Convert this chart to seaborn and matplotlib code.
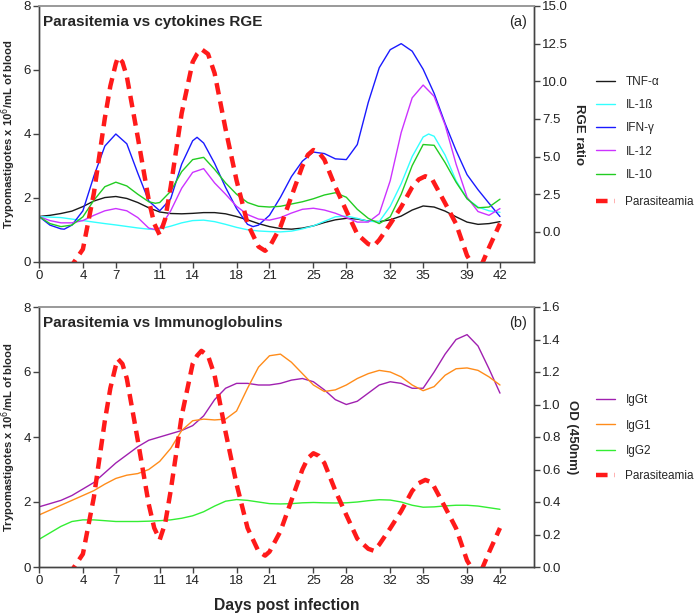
import matplotlib
matplotlib.use("Agg")
import matplotlib.pyplot as plt
import seaborn as sns
import pandas as pd
from matplotlib.lines import Line2D

# ---------------- data ----------------
tick_days = [0, 4, 7, 11, 14, 18, 21, 25, 28, 32, 35, 39, 42]

# Parasitemia (x10^6 / mL of blood); negative values fall below the axis and are clipped
para_days = [0, 1, 2, 3, 4, 5, 6, 6.5, 7, 7.2, 7.6, 8, 9, 10, 10.5, 11, 11.5, 12, 13, 14,
             14.4, 14.8, 15.4, 16, 17, 18, 19, 20, 20.6, 21, 22, 23, 24, 24.5, 25, 25.5,
             26, 27, 28, 29, 30, 30.5, 31, 32, 33, 34, 34.6, 35.2, 35.8, 36, 37, 38, 39,
             40, 41, 42]
para = [-1.5, -1.5, -1.0, -0.1, 0.4, 2.15, 4.5, 5.5, 6.2, 6.4, 6.25, 5.8, 3.9, 1.93, 1.2,
        0.84, 1.35, 2.35, 4.65, 6.25, 6.5, 6.65, 6.5, 5.9, 4.15, 2.55, 1.2, 0.48, 0.35,
        0.47, 1.1, 2.05, 3.0, 3.35, 3.5, 3.42, 3.2, 2.35, 1.6, 0.87, 0.56, 0.5, 0.69, 1.19,
        1.72, 2.34, 2.58, 2.68, 2.6, 2.47, 1.84, 1.19, 0.2, -0.35, 0.45, 1.2]

# Cytokines, RGE ratio
tnf_days = list(range(0, 43))
tnf = [1.02, 1.1, 1.22, 1.38, 1.68, 2.05, 2.28, 2.35, 2.22, 1.95, 1.6, 1.32, 1.22, 1.2,
       1.23, 1.28, 1.28, 1.2, 1.02, 0.8, 0.55, 0.35, 0.22, 0.18, 0.25, 0.4, 0.62, 0.8,
       0.9, 0.85, 0.72, 0.68, 0.8, 1.05, 1.45, 1.72, 1.65, 1.38, 1.0, 0.65, 0.5, 0.55, 0.68]

il1_days = [0, 1, 2, 3, 4, 5, 6, 7, 8, 9, 10, 10.6, 11, 12, 13, 14, 15, 16, 17, 18, 19,
            20, 21, 22, 23, 24, 25, 26, 27, 28, 29, 30, 31, 32, 33, 34, 35, 35.5, 36, 37,
            38, 39, 40, 41, 42]
il1 = [1.02, 0.98, 0.95, 0.85, 0.75, 0.65, 0.55, 0.46, 0.36, 0.26, 0.18, 0.15, 0.2, 0.38,
       0.6, 0.75, 0.78, 0.68, 0.5, 0.3, 0.14, 0.06, 0.02, 0.0, 0.05, 0.2, 0.4, 0.7, 1.0,
       1.05, 0.9, 0.7, 0.68, 1.7, 3.2, 5.0, 6.3, 6.5, 6.35, 5.1, 3.4, 2.2, 1.65, 1.4, 1.3]

ifn_days = [0, 1, 2, 2.3, 3, 4, 5, 6, 7, 8, 9, 10, 11, 12, 13, 14, 14.4, 15, 16, 17, 18,
            19, 19.5, 20, 21, 22, 23, 24, 25, 26, 27, 28, 29, 30, 31, 32, 33, 34, 35, 36,
            37, 38, 39, 40, 41, 42]
ifn = [1.02, 0.45, 0.2, 0.18, 0.45, 1.4, 3.7, 5.7, 6.5, 5.85, 3.9, 2.05, 1.4, 2.2, 4.5,
       6.05, 6.28, 5.9, 4.55, 2.95, 1.55, 0.5, 0.35, 0.45, 1.1, 2.3, 3.67, 4.7, 5.3, 5.2,
       4.85, 4.8, 5.8, 8.6, 10.9, 12.1, 12.5, 12.0, 10.8, 9.2, 7.2, 5.4, 3.8, 2.8, 1.9, 1.02]

il12_days = [0, 1, 2, 3, 4, 5, 6, 7, 8, 9, 10, 10.6, 11, 12, 13, 14, 15, 16, 17, 18, 19,
             20, 21, 22, 23, 24, 25, 26, 27, 28, 29, 30, 31, 32, 33, 34, 35, 36, 37, 38,
             39, 40, 41, 42]
il12 = [1.02, 0.75, 0.6, 0.6, 0.75, 1.1, 1.4, 1.55, 1.4, 0.95, 0.25, 0.15, 0.25, 1.4,
        2.9, 3.95, 4.2, 3.25, 2.5, 1.7, 1.15, 0.85, 0.78, 0.95, 1.25, 1.5, 1.57, 1.45,
        1.24, 0.95, 0.65, 0.65, 1.2, 3.4, 6.6, 8.9, 9.75, 9.0, 7.1, 4.5, 2.3, 1.35, 1.1, 1.55]

il10_days = [0, 1, 2, 3, 4, 5, 6, 7, 8, 9, 10, 10.6, 11, 12, 13, 14, 15, 16, 17, 18, 19,
             20, 21, 22, 23, 24, 25, 26, 27, 28, 29, 30, 31, 32, 33, 34, 35, 36, 37, 38,
             39, 40, 41, 42]
il10 = [1.02, 0.55, 0.35, 0.45, 1.0, 2.1, 3.0, 3.3, 3.05, 2.5, 2.0, 1.9, 1.95, 2.7, 4.0,
        4.8, 4.95, 4.15, 3.25, 2.5, 1.95, 1.7, 1.65, 1.7, 1.85, 2.0, 2.2, 2.45, 2.6, 2.3,
        1.5, 0.9, 0.55, 1.0, 2.5, 4.4, 5.8, 5.75, 4.6, 3.3, 2.2, 1.6, 1.65, 2.17]

# Immunoglobulins, OD (450nm)
ig_days = list(range(0, 43))
iggt = [0.37, 0.39, 0.41, 0.44, 0.48, 0.52, 0.58, 0.64, 0.69, 0.74, 0.78, 0.80, 0.82,
        0.84, 0.87, 0.93, 1.03, 1.1, 1.13, 1.13, 1.12, 1.12, 1.13, 1.15, 1.16, 1.14, 1.09,
        1.03, 1.0, 1.02, 1.07, 1.12, 1.14, 1.13, 1.1, 1.1, 1.2, 1.31, 1.4, 1.43, 1.36, 1.22, 1.07]
igg1 = [0.32, 0.35, 0.38, 0.41, 0.44, 0.47, 0.51, 0.545, 0.565, 0.575, 0.6, 0.65, 0.73,
        0.84, 0.9, 0.91, 0.905, 0.91, 0.96, 1.1, 1.23, 1.3, 1.31, 1.26, 1.19, 1.12, 1.08,
        1.09, 1.12, 1.16, 1.19, 1.21, 1.2, 1.17, 1.12, 1.085, 1.11, 1.18, 1.22, 1.225, 1.21,
        1.17, 1.12]
igg2 = [0.17, 0.21, 0.25, 0.28, 0.29, 0.29, 0.285, 0.28, 0.28, 0.28, 0.282, 0.285, 0.29,
        0.3, 0.315, 0.34, 0.375, 0.405, 0.415, 0.41, 0.4, 0.39, 0.388, 0.39, 0.395, 0.397,
        0.395, 0.394, 0.395, 0.40, 0.408, 0.414, 0.412, 0.4, 0.38, 0.368, 0.37, 0.376, 0.38,
        0.38, 0.375, 0.365, 0.355]

cyto_labels = ["TNF-α", "IL-1ß", "IFN-γ", "IL-12", "IL-10"]
cyto_colors = ["#1a1a1a", "#33ffff", "#1a1aff", "#cc33ff", "#22cc22"]
ig_labels = ["IgGt", "IgG1", "IgG2"]
ig_colors = ["#a020b0", "#ff8c1a", "#33ee33"]
para_label = "Parasiteamia"
para_color = "#ff1a1a"

# ---------------- style ----------------
sns.set_style("ticks")
plt.rcParams['font.family'] = ['Liberation Sans', 'DejaVu Sans']
plt.rcParams['axes.linewidth'] = 1.0

fig = plt.figure(figsize=(6.97, 6.16), dpi=100)
W, H = 697, 616

def axes_rect(l, r, t, b):
    return [l / W, 1 - b / H, (r - l) / W, (b - t) / H]

ax1 = fig.add_axes(axes_rect(39, 534, 6, 262))
ax2 = fig.add_axes(axes_rect(39, 534, 307, 567))

para_dash = (0, (2.6, 1.6))
para_lw = 3.2
thin = 1.0
leg_fs = 8.5

def style_axes(ax, axr):
    for a in (ax, axr):
        for s in ("left", "right", "bottom"):
            a.spines[s].set_color("#444444")
            a.spines[s].set_linewidth(1.0)
        a.spines["top"].set_color("#999999")
        a.spines["top"].set_linewidth(1.2)
        a.tick_params(direction="out", length=4, width=1.0, color="#444444",
                      labelsize=9.5, labelcolor="#222222", pad=2)
    ax.set_xlim(0, 45.1)
    ax.set_xticks(tick_days)
    ax.set_ylim(0, 8)
    ax.set_yticks([0, 2, 4, 6, 8])
    ax.set_ylabel("Trypomastigotes x 10$^6$/mL of blood", fontsize=8.1,
                  fontweight="bold")
    ax.yaxis.set_label_coords(-0.043, 0.5)
    ax.set_zorder(axr.get_zorder() + 1)
    ax.patch.set_visible(False)

# ---------- top panel ----------
ax1r = ax1.twinx()
cyto = [(tnf_days, tnf), (il1_days, il1), (ifn_days, ifn), (il12_days, il12), (il10_days, il10)]
for (d, v), lab, col in zip(cyto, cyto_labels, cyto_colors):
    sns.lineplot(x=d, y=v, ax=ax1r, color=col, lw=thin, sort=False, legend=False)
sns.lineplot(x=para_days, y=para, ax=ax1, color=para_color, lw=para_lw,
             linestyle=para_dash, sort=False, legend=False)
ax1r.set_ylim(-2, 15)
ax1r.set_yticks([0, 2.5, 5, 7.5, 10, 12.5, 15])
ax1r.set_yticklabels([f"{t:.1f}" for t in [0, 2.5, 5, 7.5, 10, 12.5, 15]])
ax1r.set_ylabel("RGE ratio", fontsize=9.5, fontweight="bold", rotation=270, labelpad=12)
style_axes(ax1, ax1r)
ax1.text(0.008, 0.965, "Parasitemia vs cytokines RGE", transform=ax1.transAxes,
         fontsize=11, fontweight="bold", va="top", ha="left")
ax1.text(0.985, 0.965, "(a)", transform=ax1.transAxes, fontsize=10.5,
         va="top", ha="right")

handles1 = [Line2D([], [], color=c, lw=thin) for c in cyto_colors]
leg1 = ax1.legend(handles1, cyto_labels, loc="upper left", bbox_to_anchor=(1.125, 0.727),
                  frameon=False, fontsize=leg_fs, handlelength=1.6, handletextpad=0.9,
                  labelspacing=0.95, borderpad=0, borderaxespad=0)
ax1.add_artist(leg1)
leg1b = ax1.legend([Line2D([], [], color=para_color, lw=para_lw, linestyle=para_dash)],
                   [para_label], loc="upper left", bbox_to_anchor=(1.125, 0.258),
                   frameon=False, fontsize=leg_fs, handlelength=1.6, handletextpad=0.9,
                   borderpad=0, borderaxespad=0)

# ---------- bottom panel ----------
ax2r = ax2.twinx()
for v, lab, col in zip([iggt, igg1, igg2], ig_labels, ig_colors):
    sns.lineplot(x=ig_days, y=v, ax=ax2r, color=col, lw=thin, sort=False, legend=False)
sns.lineplot(x=para_days, y=para, ax=ax2, color=para_color, lw=para_lw,
             linestyle=para_dash, sort=False, legend=False)
ax2r.set_ylim(0, 1.6)
ax2r.set_yticks([0, 0.2, 0.4, 0.6, 0.8, 1.0, 1.2, 1.4, 1.6])
ax2r.set_yticklabels([f"{t:.1f}" for t in [0, 0.2, 0.4, 0.6, 0.8, 1.0, 1.2, 1.4, 1.6]])
ax2r.set_ylabel("OD (450nm)", fontsize=9.5, fontweight="bold", rotation=270, labelpad=12)
style_axes(ax2, ax2r)
ax2.set_xlabel("Days post infection", fontsize=11.3, fontweight="bold", labelpad=8)
ax2.text(0.008, 0.965, "Parasitemia vs Immunoglobulins", transform=ax2.transAxes,
         fontsize=11, fontweight="bold", va="top", ha="left")
ax2.text(0.985, 0.965, "(b)", transform=ax2.transAxes, fontsize=10.5,
         va="top", ha="right")

handles2 = [Line2D([], [], color=c, lw=thin) for c in ig_colors]
handles2.append(Line2D([], [], color=para_color, lw=para_lw, linestyle=para_dash))
labels2 = ig_labels + [para_label]
leg2 = ax2.legend(handles2, labels2, loc="upper left", bbox_to_anchor=(1.125, 0.664),
                  frameon=False, fontsize=leg_fs, handlelength=1.6, handletextpad=0.9,
                  labelspacing=1.12, borderpad=0, borderaxespad=0)

fig.savefig("out.png", dpi=100)
